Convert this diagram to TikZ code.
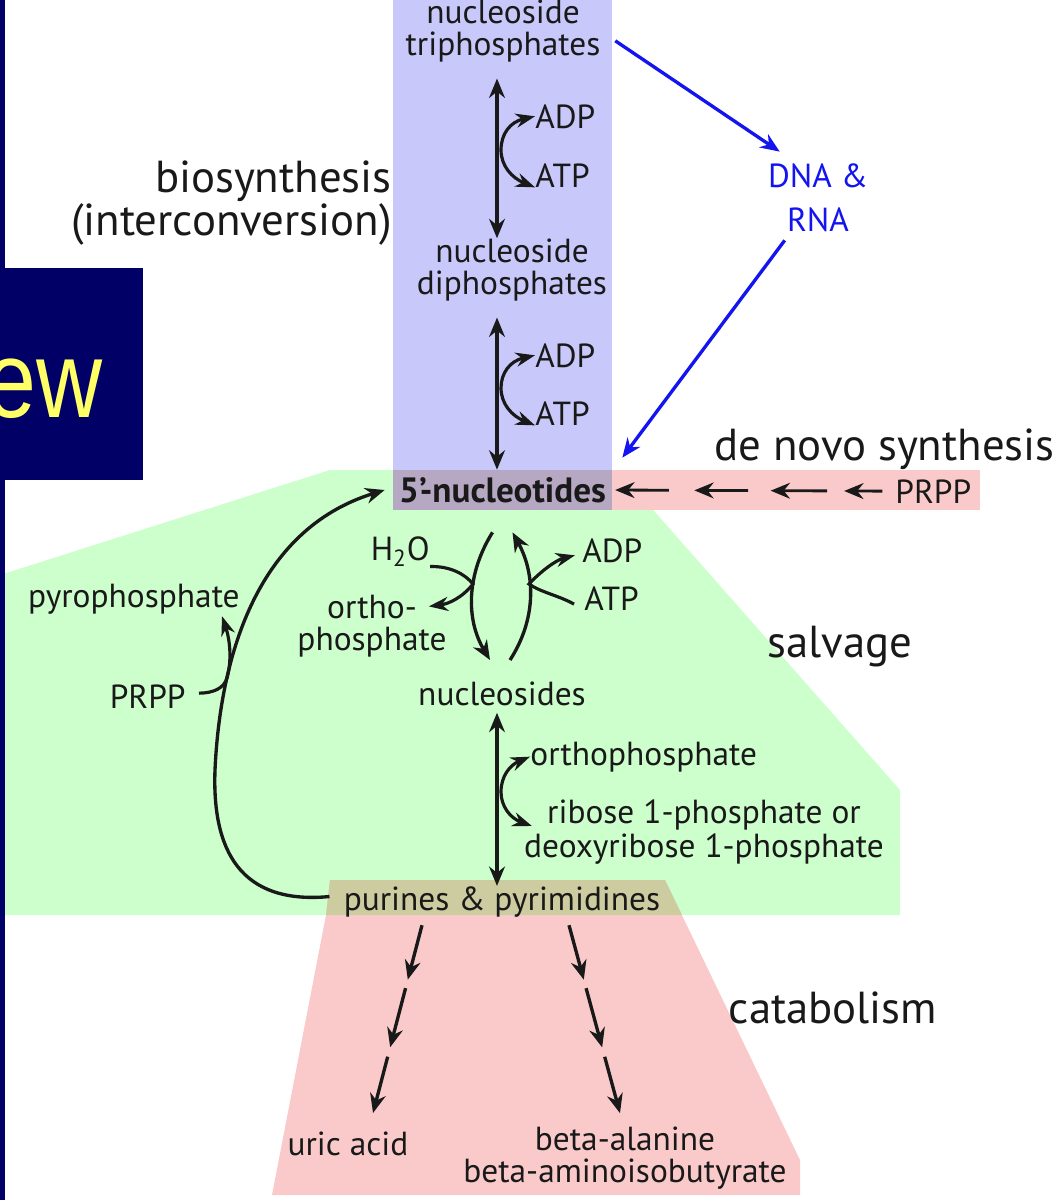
\documentclass[tikz,border=0pt]{standalone}
\usepackage{fontspec}
\setmainfont{PT Sans}
\newfontfamily\ewfont{Liberation Sans}
\usepackage{tikz}
\usepackage{tkz-euclide}
\usetikzlibrary{calc}
\usetikzlibrary{positioning}
\usetikzlibrary{arrows.meta}

\definecolor{synblue}{RGB}{200,200,250}
\definecolor{salvgreen}{RGB}{204,255,204}
\definecolor{catpink}{RGB}{250,202,202}
\definecolor{bandgrey}{RGB}{182,168,194}
\definecolor{bandolive}{RGB}{204,204,160}
\definecolor{slidenavy}{RGB}{0,0,102}
\definecolor{slideyellow}{RGB}{255,255,102}
\definecolor{dnablue}{RGB}{20,20,240}
\definecolor{ink}{RGB}{25,25,25}

\tikzset{
  mainhead/.tip={Stealth[length=11pt,width=9pt]},
  sidehead/.tip={Stealth[length=11pt,width=8pt]},
  lbl/.style={inner sep=0pt, text=ink, font=\fontsize{19}{18.5}\selectfont, align=center},
  biglbl/.style={inner sep=0pt, text=ink, font=\fontsize{25.5}{22.7}\selectfont},
  ntband/.style={inner sep=0pt, text=ink, fill=bandgrey, minimum width=4.38cm,
    minimum height=0.8cm, font=\bfseries\fontsize{20}{20}\selectfont},
  rxn/.style={draw=ink, line width=1.9pt, >=mainhead},
  side/.style={draw=ink, line width=1.8pt, >=sidehead},
  dnaarrow/.style={draw=dnablue, line width=1.9pt, -mainhead},
}

\begin{document}
\begin{tikzpicture}[%
  >={Stealth[scale=1.0]},
  x=0.02cm, y=-0.02cm,
]
  \useasboundingbox (0,0) rectangle (1060,1200);

  % region corners
  \tkzDefPoint(0,575){g0}
  \tkzDefPoint(330,470){g1}
  \tkzDefPoint(618,470){g2}
  \tkzDefPoint(900,790){g3}
  \tkzDefPoint(900,915){g4}
  \tkzDefPoint(0,915){g5}
  \tkzDefPoint(330,880){c0}
  \tkzDefPoint(665,880){c1}
  \tkzDefPoint(800,1160){c2}
  \tkzDefPoint(800,1195){c3}
  \tkzDefPoint(272,1195){c4}
  \tkzDefPoint(326,915){c5}
  \tkzDefPoint(682,915){c6}

  \fill[synblue] (393,0) rectangle (612,470);
  \tkzFillPolygon[color=salvgreen](g0,g1,g2,g3,g4,g5)
  \tkzFillPolygon[color=catpink](c0,c1,c2,c3,c4,c5)
  \tkzFillPolygon[color=bandolive](c0,c1,c6,c5)
  \fill[catpink] (612,470) rectangle (980,510);

  % slide edge
  \fill[slidenavy] (0,0) rectangle (5,1200);
  \fill[slidenavy] (0,268) rectangle (143,480);
  \node[anchor=base east, inner sep=0pt, text=slideyellow,
    font=\ewfont\fontsize{62}{62}\selectfont] (ew) at (103,417) {\scalebox{0.84}[1]{ew}};

  % compounds
  \node[lbl] (tri) at (503,31) {nucleoside\\triphosphates};
  \node[lbl] (di) at (512,270) {nucleoside\\diphosphates};
  \node[lbl, anchor=base west] (adpA) at (535,128) {ADP};
  \node[lbl, anchor=base west] (atpA) at (535,187) {ATP};
  \node[lbl, anchor=base west] (adpB) at (535,367) {ADP};
  \node[lbl, anchor=base west] (atpB) at (535,425) {ATP};
  \node[lbl, text=dnablue, font=\fontsize{19}{25}\selectfont] (dna) at (818,198) {DNA \&\\RNA};
  \node[ntband] (nt) at (502.5,490) {5'-nucleotides};
  \node[lbl, anchor=base west] (prppR) at (895,503) {PRPP};
  \node[lbl, anchor=base east] (h2o) at (430,560) {H\textsubscript{2}O};
  \node[lbl] (ortho) at (372,626) {ortho-\\phosphate};
  \node[lbl, anchor=base west] (adpC) at (582,562) {ADP};
  \node[lbl, anchor=base west] (atpC) at (584,610) {ATP};
  \node[lbl, anchor=base east] (pyro) at (240,607) {pyrophosphate};
  \node[lbl, anchor=base east] (prppL) at (186,708) {PRPP};
  \node[lbl, anchor=base] (ns) at (502,705) {nucleosides};
  \node[lbl, anchor=base west] (orthoP) at (530,765) {orthophosphate};
  \node[lbl, font=\fontsize{19}{19.8}\selectfont] (ribose) at (704,832) {ribose 1-phosphate or\\deoxyribose 1-phosphate};
  \node[lbl, anchor=base] (pp) at (502,910) {purines \& pyrimidines};
  \node[lbl, anchor=base] (ua) at (348,1155) {uric acid};
  \node[lbl] (ba) at (625,1158) {beta-alanine\\beta-aminoisobutyrate};

  % pathway names
  \node[biglbl, align=right, anchor=east] (bio) at (392,203) {biosynthesis\\(interconversion)};
  \node[biglbl, anchor=base west] (denovo) at (714,460) {de novo synthesis};
  \node[biglbl, anchor=base] (salv) at (840,657) {salvage};
  \node[biglbl, anchor=base] (catab) at (833,1023) {catabolism};

  % helper points
  \coordinate (ax) at (497,0);
  \coordinate (vA) at (501,150);
  \coordinate (vB) at (501,388);
  \coordinate (vC) at (501,792);
  \coordinate (vL) at (473,584);
  \coordinate (vR) at (529,584);
  \coordinate (vP) at (227,678);
  \coordinate (kL0) at ($(pp.south)+(-80,8)$);
  \coordinate (kL1) at ($(ua.north)+(25,-18)$);
  \coordinate (kR0) at ($(pp.south)+(67,8)$);
  \coordinate (kR1) at ($(ba.north)+(-5,-13)$);

  % interconversion
  \draw[rxn, <->, shorten <=9pt] (tri.south -| ax) -- (di.north -| ax);
  \draw[rxn, <->, shorten <=9pt] (di.south -| ax) -- (nt.north -| ax);
  \draw[side, <->] (adpA.west) .. controls (510,122) and (501,134) .. (vA)
    .. controls (501,166) and (512,178) .. (atpA.south west);
  \draw[side, <->] (adpB.west) .. controls (510,361) and (501,373) .. (vB)
    .. controls (501,404) and (512,416) .. (atpB.south west);

  % nucleic acids
  \draw[dnaarrow, shorten <=10pt] (tri.east) -- ($(dna.north west)+(12,-12)$);
  \draw[dnaarrow] ($(dna.south west)+(17,8)$) -- ($(nt.north east)+(10,-12)$);

  % de novo
  \foreach \a/\b in {0.01/0.2, 0.29/0.48, 0.56/0.76, 0.82/0.955}
    \draw[rxn, line width=1.6pt, <-] ($(nt.east)!\a!(prppR.west)$) -- ($(nt.east)!\b!(prppR.west)$);

  % salvage
  \draw[rxn, ->] ($(nt.south)+(-10,22)$) .. controls (466,575) and (466,620) .. ($(ns.north)+(-12,-21)$);
  \draw[rxn, ->] ($(ns.north)+(8,-21)$) .. controls (536,620) and (536,575) .. ($(nt.south)+(10,22)$);
  \draw[side, ->] (h2o.south east) .. controls (450,566) and (465,574) .. (vL)
    .. controls (462,598) and (448,604) .. ($(ortho.north east)+(-18,12)$);
  \draw[side, ->] ($(atpC.west)+(-10,6)$) .. controls (560,596) and (540,592) .. (vR)
    .. controls (540,572) and (556,560) .. ($(adpC.west)+(-7,5)$);
  \draw[rxn, <->, shorten <=4pt] (ns.south -| ax) -- (pp.north -| ax);
  \draw[side, <->] (orthoP.west) .. controls (510,765) and (501,776) .. (vC)
    .. controls (501,806) and (510,818) .. ($(ribose.west)+(8,-6)$);
  \draw[rxn, ->] ($(pp.west)+(-14,-5)$) .. controls (240,905) and (212,850) .. (215,770)
    .. controls (220,660) and (255,530) .. ($(nt.west)+(-8,0)$);
  \draw[side, ->] ($(prppL.east)+(13,-3)$) .. controls (214,693) and (224,688) .. (vP)
    .. controls (232,660) and (230,640) .. ($(pyro.south east)+(-18,2)$);

  % catabolism
  \foreach \a/\b in {0/0.29, 0.335/0.65, 0.7/1}{
    \draw[rxn, ->] ($(kL0)!\a!(kL1)$) -- ($(kL0)!\b!(kL1)$);
    \draw[rxn, ->] ($(kR0)!\a!(kR1)$) -- ($(kR0)!\b!(kR1)$);
  }

\end{tikzpicture}
\end{document}
